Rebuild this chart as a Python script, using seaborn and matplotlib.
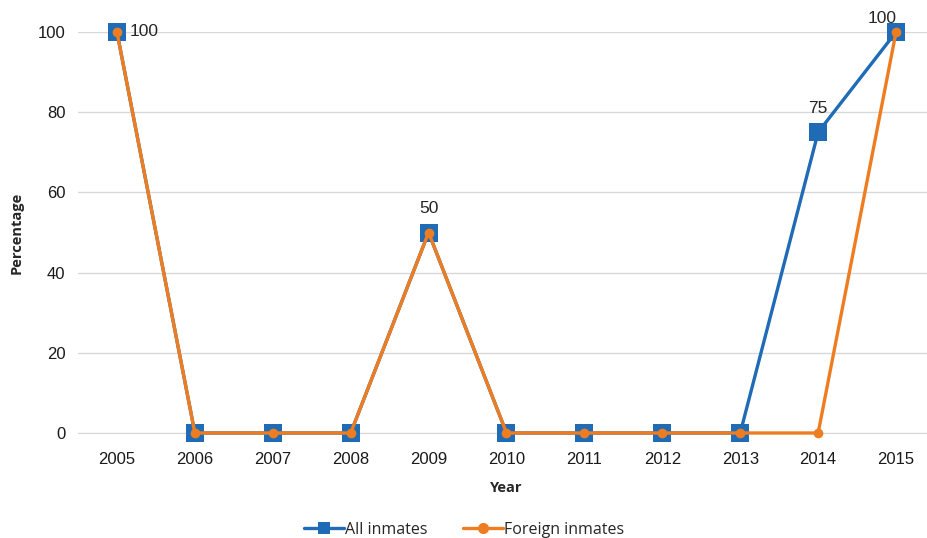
import pandas as pd
import numpy as np
import matplotlib
matplotlib.use("Agg")
import matplotlib.pyplot as plt
import seaborn as sns

years = ["2005", "2006", "2007", "2008", "2009", "2010", "2011", "2012", "2013", "2014", "2015"]
all_inmates = [100, 0, 0, 0, 50, 0, 0, 0, 0, 75, 100]
foreign_inmates = [100, 0, 0, 0, 50, 0, 0, 0, 0, 0, 100]
series_names = ["All inmates", "Foreign inmates"]
colors = ["#1f6bb5", "#ee7d22"]

df = pd.DataFrame({
    "Year": years * 2,
    "Percentage": all_inmates + foreign_inmates,
    "Series": [series_names[0]] * len(years) + [series_names[1]] * len(years),
})
df["pos"] = list(range(len(years))) * 2

sns.set_style("white")
plt.rcParams["font.family"] = ["Liberation Sans", "DejaVu Sans"]

fig = plt.figure(figsize=(9.28, 5.38), dpi=100)
ax = fig.add_axes([78 / 928, 1 - 433 / 538, (935 - 78) / 928, (433 - 32) / 538])

# blue line under orange
sns.lineplot(data=df[df["Series"] == series_names[0]], x="pos", y="Percentage", ax=ax,
             color=colors[0], linewidth=2.4, marker="s", markersize=13,
             markeredgewidth=0, clip_on=False, zorder=3, label=series_names[0])
sns.lineplot(data=df[df["Series"] == series_names[1]], x="pos", y="Percentage", ax=ax,
             color=colors[1], linewidth=2.4, marker="o", markersize=7,
             markeredgewidth=0, clip_on=False, zorder=4, label=series_names[1])

ax.set_xlim(-0.5, len(years) - 0.5)
ax.set_ylim(0, 100)
ax.set_xticks(range(len(years)))
ax.set_xticklabels(years)
ax.set_yticks([0, 20, 40, 60, 80, 100])
ax.tick_params(axis="both", length=0, labelsize=12, colors="#1a1a1a")
ax.tick_params(axis="x", pad=14)
ax.tick_params(axis="y", pad=9)
ax.grid(axis="y", color="#d9d9d9", linewidth=1)
for s in ["top", "right", "left"]:
    ax.spines[s].set_visible(False)
ax.spines["bottom"].set_color("#d9d9d9")

ax.set_xlabel("Year", fontsize=10.5, fontweight="bold", labelpad=10,
              family=["Open Sans", "DejaVu Sans"])
ax.set_ylabel("Percentage", fontsize=10.5, fontweight="bold", labelpad=10,
              family=["Open Sans", "DejaVu Sans"])

# data labels on the "All inmates" series
ax.annotate("100", (0, all_inmates[0]), xytext=(9, 0), textcoords="offset points",
            ha="left", va="center", fontsize=12.5)
ax.annotate("50", (4, all_inmates[4]), xytext=(0, 12), textcoords="offset points",
            ha="center", va="bottom", fontsize=12.5)
ax.annotate("75", (9, all_inmates[9]), xytext=(0, 12), textcoords="offset points",
            ha="center", va="bottom", fontsize=12.5)
ax.annotate("100", (10, all_inmates[10]), xytext=(-10, 4), textcoords="offset points",
            ha="center", va="bottom", fontsize=12.5, annotation_clip=False)

leg = ax.legend(loc="lower center", ncol=2, frameon=False, fontsize=11.5,
                handlelength=2.5, columnspacing=2.2, handletextpad=0.1,
                borderaxespad=0.0)
leg.set_bbox_to_anchor((0.5, -0.012), transform=fig.transFigure)
for t in leg.get_texts():
    t.set_family(["Open Sans", "DejaVu Sans"])
for h in leg.legend_handles:
    h.set_markersize(8)

fig.savefig("out.png", dpi=100)
